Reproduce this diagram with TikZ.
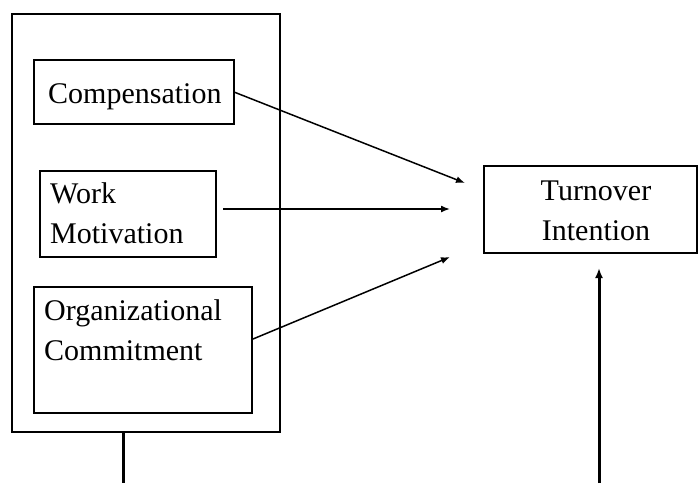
\documentclass[tikz,border=0pt]{standalone}
\usepackage{fontspec}
\setmainfont{Liberation Serif}
\usetikzlibrary{arrows.meta}
\begin{document}
\begin{tikzpicture}[x=1pt,y=-1pt,
  box/.style={draw, line width=1.5pt, inner sep=0pt, outer sep=0pt},
  lbl/.style={anchor=base west, inner sep=0pt, font=\fontsize{30}{36}\selectfont},
  arr/.style={line width=1.5pt, -{Latex[length=9pt,width=7pt]}},
  bold line/.style={line width=3pt},
  bold arr/.style={line width=3pt, -{Latex[length=10pt,width=8pt]}}]
\useasboundingbox (0,0) rectangle (698,483);
% boxes
\node[box, minimum width=268pt, minimum height=418pt] (outer) at (146,223) {};
\node[box, minimum width=200pt, minimum height=64pt] (comp) at (134,92) {};
\node[box, minimum width=176pt, minimum height=86pt] (work) at (128,214) {};
\node[box, minimum width=218pt, minimum height=126pt] (org) at (143,350) {};
\node[box, minimum width=213pt, minimum height=87pt] (turn) at (590.5,209.5) {};
% labels
\node[lbl] (tcomp) at (48,103) {Compensation};
\node[lbl] (twork1) at (50,203) {Work};
\node[lbl] (twork2) at (50,243) {Motivation};
\node[lbl] (torg1) at (44,320) {Organizational};
\node[lbl] (torg2) at (44,360) {Commitment};
\node[lbl, anchor=base] (tturn1) at (596,200) {Turnover};
\node[lbl, anchor=base] (tturn2) at (596,240) {Intention};
% connector ends
\coordinate (e1) at (465,183);
\coordinate (s2) at (223,209);
\coordinate (e2) at (450,209);
\coordinate (s3) at (253,339);
\coordinate (e3) at (450,257);
\coordinate (b1) at (123,483);
\coordinate (b2) at (599,483);
\coordinate (e4) at (599,268);
% connectors
\draw[arr] (comp.east) -- (e1);
\draw[arr] (s2) -- (e2);
\draw[arr] (s3) -- (e3);
\draw[bold line] (outer.south -| b1) -- (b1);
\draw[bold arr] (b2) -- (e4);
\end{tikzpicture}
\end{document}
